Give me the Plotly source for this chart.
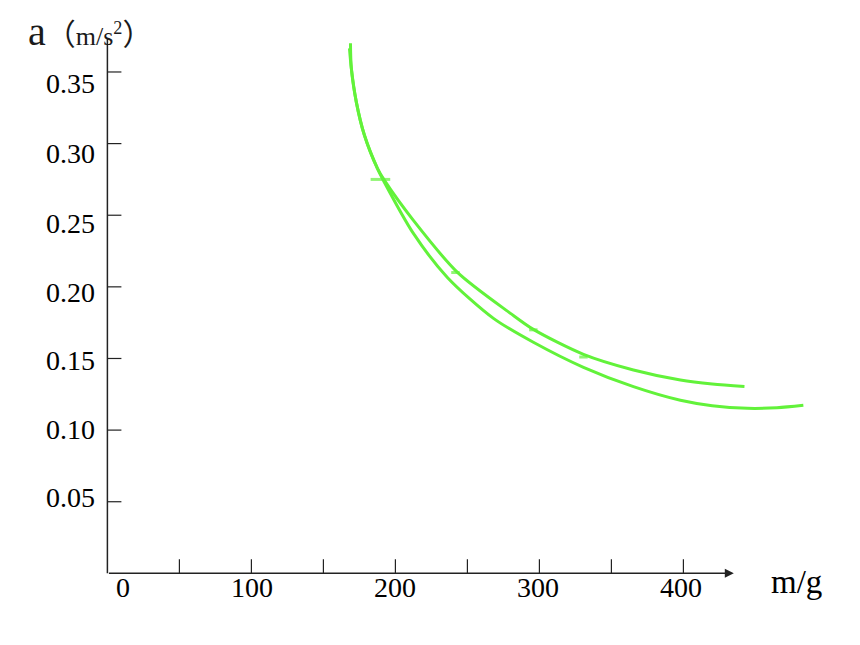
import plotly.graph_objects as go

# ---- data ----
curve_upper_m = [168.8, 169.4, 172.9, 178.5, 187.5, 192.4, 212.5, 243.1, 279.9, 295.8, 330.6, 365.3, 397.9, 420.0, 442.4]
curve_upper_a = [0.3700, 0.3525, 0.3288, 0.3058, 0.2827, 0.2743, 0.2464, 0.2101, 0.1815, 0.1703, 0.1529, 0.1420, 0.1350, 0.1322, 0.1305]

curve_lower_m = [168.1, 169.4, 172.9, 178.5, 187.5, 192.4, 212.5, 236.1, 268.1, 295.8, 330.6, 365.3, 397.9, 420.0, 444.4, 465.0, 483.3]
curve_lower_a = [0.3665, 0.3525, 0.3288, 0.3058, 0.2827, 0.2729, 0.2373, 0.2066, 0.1780, 0.1613, 0.1438, 0.1303, 0.1208, 0.1170, 0.1152, 0.1156, 0.1173]

point_m = [189.6, 241.7, 295.8, 330.6]
point_a = [0.275, 0.210, 0.170, 0.151]

x_ticks = [50, 100, 150, 200, 250, 300, 350, 400]
x_label_vals = [11, 100.7, 200, 299.3, 398.6]
x_label_text = ["0", "100", "200", "300", "400"]

y_ticks = [0.05, 0.10, 0.15, 0.20, 0.25, 0.30, 0.35]
y_label_text = ["0.05", "0.10", "0.15", "0.20", "0.25", "0.30", "0.35"]
y_label_shift = [4, 1, -2, -6, -8, -10, -12]

GREEN = "#62F23A"
AX = "#222222"
FONT = "Liberation Serif, Times New Roman, serif"

fig = go.Figure()
fig.add_trace(go.Scatter(x=curve_upper_m, y=curve_upper_a, mode="lines",
                         line=dict(color=GREEN, width=3, shape="spline", smoothing=0.8),
                         hoverinfo="skip", showlegend=False))
fig.add_trace(go.Scatter(x=curve_lower_m, y=curve_lower_a, mode="lines",
                         line=dict(color=GREEN, width=3, shape="spline", smoothing=0.8),
                         hoverinfo="skip", showlegend=False))
fig.add_trace(go.Scatter(x=point_m, y=point_a, mode="markers",
                         marker=dict(symbol="line-ew", size=[14, 6, 6, 6],
                                     line=dict(color=GREEN, width=3)),
                         hoverinfo="skip", showlegend=False))

px_x = 1.44
px_y = 1432.5

shapes = []
# y axis line
shapes.append(dict(type="line", xref="x", yref="y", x0=0, x1=0, y0=0, y1=0.3736,
                   line=dict(color=AX, width=1.5)))
for t in x_ticks:
    shapes.append(dict(type="line", xref="x", yref="y", x0=t, x1=t, y0=0, y1=14 / px_y,
                       line=dict(color=AX, width=1.2)))
for t in y_ticks:
    shapes.append(dict(type="line", xref="x", yref="y", x0=0, x1=14 / px_x, y0=t, y1=t,
                       line=dict(color=AX, width=1.2)))

annotations = []
# x axis with arrow
annotations.append(dict(x=435, y=0, ax=0, ay=0, xref="x", yref="y", axref="x", ayref="y",
                        text="", showarrow=True, arrowhead=2, arrowsize=1.2, arrowwidth=1.5,
                        arrowcolor=AX))
for v, txt in zip(x_label_vals, x_label_text):
    annotations.append(dict(x=v, y=-0.0098, xref="x", yref="y", text=txt, showarrow=False,
                            xanchor="center", yanchor="middle",
                            font=dict(family=FONT, size=28, color="black")))
for v, txt, s in zip(y_ticks, y_label_text, y_label_shift):
    annotations.append(dict(x=-6.9, y=v, xref="x", yref="y", text=txt, showarrow=False,
                            xanchor="right", yanchor="middle", yshift=s,
                            font=dict(family=FONT, size=28, color="black")))
annotations.append(dict(x=478.5, y=-0.006, xref="x", yref="y", text="m/g", showarrow=False,
                        xanchor="center", yanchor="middle",
                        font=dict(family=FONT, size=33, color="black")))
annotations.append(dict(x=-0.093, y=0.995, xref="paper", yref="paper",
                        text="<span style='font-size:40px'>a</span><span style='font-family:Noto Sans CJK SC;font-size:30px'>（</span>m/s<sup>2</sup><span style='font-family:Noto Sans CJK SC;font-size:30px'>）</span>",
                        showarrow=False, xanchor="left", yanchor="middle",
                        font=dict(family=FONT, size=26, color="#1a1a1a")))

fig.update_layout(
    width=860, height=645,
    margin=dict(l=85, r=55, t=21, b=51),
    paper_bgcolor="white", plot_bgcolor="white",
    xaxis=dict(range=[-10, 490], visible=False, fixedrange=True),
    yaxis=dict(range=[-0.02, 0.38], visible=False, fixedrange=True),
    shapes=shapes, annotations=annotations,
)
fig.write_html("out.html")
